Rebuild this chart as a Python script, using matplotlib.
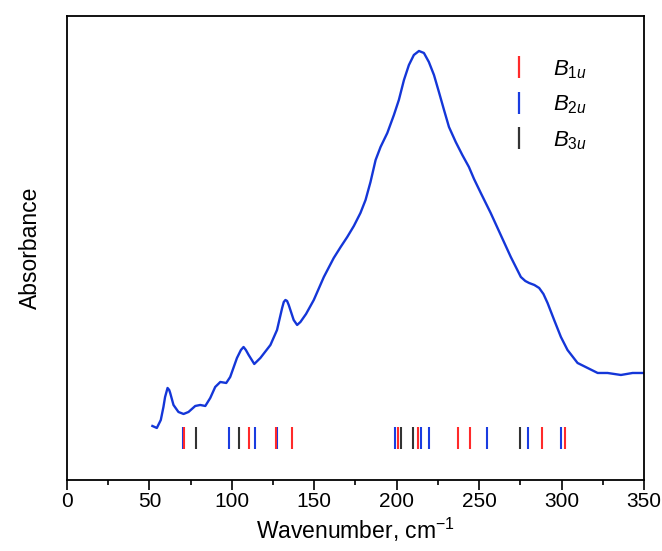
import matplotlib
matplotlib.use("Agg")
import matplotlib.pyplot as plt
from matplotlib.lines import Line2D
from matplotlib.ticker import MultipleLocator

plt.rcParams['font.family'] = ['Liberation Sans', 'DejaVu Sans']
plt.rcParams['mathtext.fontset'] = 'custom'
plt.rcParams['mathtext.rm'] = 'Liberation Sans'
plt.rcParams['mathtext.it'] = 'Liberation Sans:italic'

# Spectrum (wavenumber, absorbance a.u.)
wavenumber = [51.8, 54.5, 56.9, 58.5, 59.5, 61.0, 62.0, 62.6, 64.6, 67.6, 70.7, 73.7,
              77.8, 80.8, 83.9, 86.9, 89.9, 93.0, 96.6, 99.0, 103.1, 105.5, 107.1,
              108.5, 110.2, 113.6, 117.3, 123.4, 127.4, 130.5, 131.5, 132.5, 133.5,
              134.5, 137.5, 139.6, 141.6, 145.0, 149.7, 155.8, 161.8, 166.0, 170.0,
              174.0, 178.0, 181.1, 184.1, 187.2, 190.2, 194.3, 198.3, 201.3, 204.4,
              207.4, 210.4, 213.5, 216.5, 219.5, 222.6, 225.6, 228.7, 231.7, 235.8,
              239.8, 243.8, 246.9, 251.0, 257.0, 263.1, 269.2, 275.3, 278.0, 280.3,
              283.5, 286.4, 289.0, 291.5, 295.5, 299.6, 303.6, 309.7, 315.8, 321.9,
              327.9, 336.0, 343.1, 350.0]
absorbance = [0.51, 0.49, 0.57, 0.70, 0.80, 0.89, 0.87, 0.84, 0.72, 0.65, 0.63, 0.65,
              0.71, 0.72, 0.71, 0.79, 0.90, 0.95, 0.94, 1.00, 1.19, 1.27, 1.30,
              1.27, 1.22, 1.13, 1.19, 1.32, 1.47, 1.69, 1.75, 1.77, 1.76,
              1.72, 1.57, 1.52, 1.55, 1.63, 1.77, 2.00, 2.19, 2.30, 2.40,
              2.51, 2.64, 2.77, 2.95, 3.17, 3.30, 3.44, 3.62, 3.77, 3.97,
              4.12, 4.22, 4.26, 4.24, 4.15, 4.02, 3.85, 3.67, 3.50, 3.35,
              3.22, 3.10, 2.98, 2.84, 2.64, 2.42, 2.20, 2.00, 1.96, 1.94,
              1.92, 1.89, 1.83, 1.74, 1.57, 1.40, 1.27, 1.14, 1.09, 1.04,
              1.04, 1.02, 1.04, 1.04]

# Calculated mode positions
b1u = [71.0, 110.2, 126.6, 136.7, 200.9, 213.1, 237.0, 244.7, 288.2, 301.8]
b2u = [70.3, 98.4, 114.2, 127.6, 198.7, 214.9, 219.4, 255.0, 279.9, 299.8]
b3u = [78.2, 104.3, 202.7, 210.0, 274.8]
labels = [r'$B_{1u}$', r'$B_{2u}$', r'$B_{3u}$']

red = '#ff2a2a'
blue = '#1a3ce0'
black = '#333333'

fig = plt.figure(figsize=(6.62, 5.51), dpi=100)
ax = fig.add_axes([0.1012, 0.1289, 0.8716, 0.8421])

ax.plot(wavenumber, absorbance, color='#1436d8', lw=1.7)

tick_lo, tick_hi = 0.28, 0.50
ax.vlines(b2u, tick_lo, tick_hi, color=blue, lw=1.5)
ax.vlines(b1u, tick_lo, tick_hi, color=red, lw=1.5)
ax.vlines(b3u, tick_lo, tick_hi, color=black, lw=1.5)

ax.set_xlim(0, 350)
ax.set_ylim(-0.03, 4.61)
ax.xaxis.set_major_locator(MultipleLocator(50))
ax.xaxis.set_minor_locator(MultipleLocator(25))
ax.tick_params(axis='x', which='major', direction='out', length=7.2, width=1.2,
               labelsize=15, pad=1.5)
ax.tick_params(axis='x', which='minor', direction='out', length=3.6, width=1.2)
ax.set_yticks([])
for s in ax.spines.values():
    s.set_linewidth(1.3)

ax.set_xlabel('Wavenumber, cm$^{-1}$', fontsize=16.5, labelpad=3.6)
ax.set_ylabel('Absorbance', fontsize=16.5, labelpad=18)

handles = [Line2D([], [], color=c, marker='|', linestyle='none', markersize=16,
                  markeredgewidth=1.6) for c in (red, blue, black)]
ax.legend(handles, labels, loc='upper left', bbox_to_anchor=(0.730, 0.952),
          frameon=False, fontsize=16, handlelength=1.0, handletextpad=1.0,
          labelspacing=0.58)

fig.savefig('out.png', dpi=100)
